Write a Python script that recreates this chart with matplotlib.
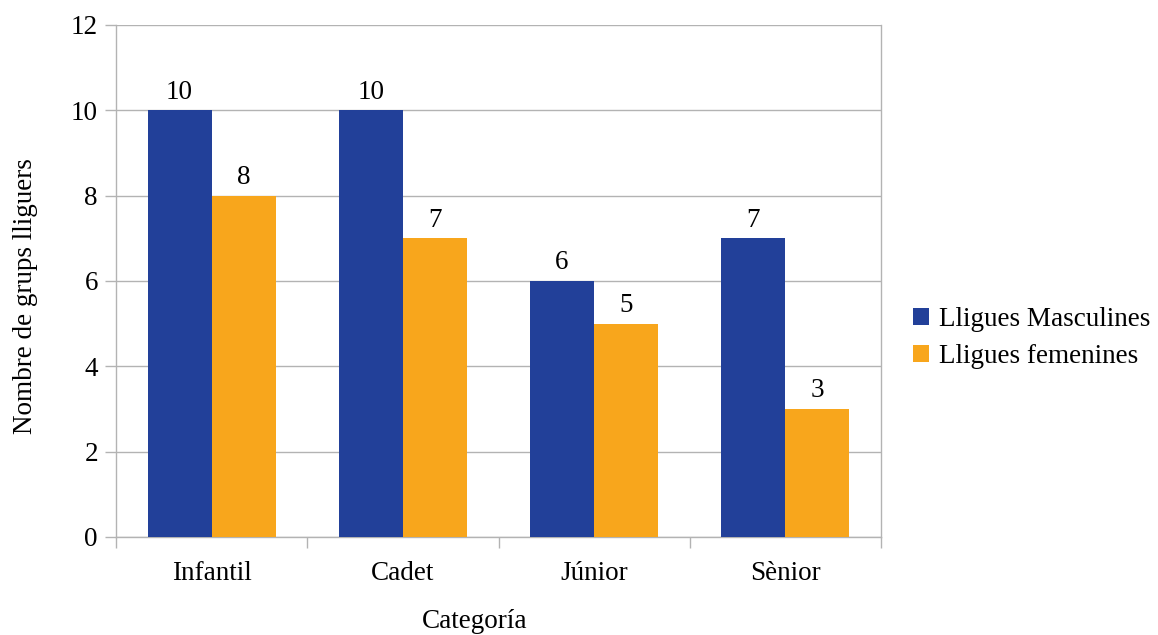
import matplotlib
matplotlib.use("Agg")
import matplotlib.pyplot as plt
import numpy as np

categories = ["Infantil", "Cadet", "Júnior", "Sènior"]
masculines = [10, 10, 6, 7]
femenines = [8, 7, 5, 3]
series_names = ["Lligues Masculines", "Lligues femenines"]
y_ticks = [0, 2, 4, 6, 8, 10, 12]

plt.rcParams['font.family'] = ['Liberation Serif', 'DejaVu Serif']
FS = 19.5

fig = plt.figure(figsize=(11.58, 6.35), dpi=100)
ax = fig.add_axes([116/1158, 1-537/635, (881-116)/1158, (537-25)/635])

x = np.arange(len(categories))
w = 0.335
blue = "#224099"
orange = "#f8a61c"
b1 = ax.bar(x - w/2, masculines, w, color=blue, label=series_names[0], zorder=3)
b2 = ax.bar(x + w/2, femenines, w, color=orange, label=series_names[1], zorder=3)

for bars in (b1, b2):
    for r in bars:
        ax.annotate(f"{int(r.get_height())}", (r.get_x() + r.get_width()/2, r.get_height()),
                    xytext=(0, 4), textcoords="offset points", ha="center", va="bottom",
                    fontsize=FS)

ax.set_xlim(-0.5, 3.5)
ax.set_ylim(0, 12)
ax.set_yticks(y_ticks)
ax.yaxis.grid(True, color="#b3b3b3", linewidth=1, zorder=0)
ax.set_xticks(x)
ax.set_xticklabels(categories)
ax.set_xticks(np.arange(-0.5, 4, 1), minor=True)
ax.tick_params(axis="x", which="major", length=0, pad=17, labelsize=FS)
ax.tick_params(axis="x", which="minor", length=8, color="#b3b3b3", width=1)
ax.tick_params(axis="y", length=8, color="#b3b3b3", width=1, pad=5, labelsize=FS)
for s in ax.spines.values():
    s.set_color("#b3b3b3")
    s.set_linewidth(1)
ax.spines["top"].set_visible(False)

ax.set_ylabel("Nombre de grups lliguers", fontsize=FS)
ax.yaxis.set_label_coords(-(116-38)/765, 0.47)
fig.text(475/1158, 1-622/635, "Categoría", fontsize=FS, ha="center", va="center")

leg = fig.legend(handles=[b1, b2], labels=series_names, loc="center left",
                 bbox_to_anchor=(913/1158, 1-338/635), bbox_transform=fig.transFigure,
                 frameon=False, borderpad=0, borderaxespad=0,
                 fontsize=FS, handlelength=0.6, handleheight=0.6, handletextpad=0.35,
                 labelspacing=0.45)

fig.savefig("out.png", dpi=100)
